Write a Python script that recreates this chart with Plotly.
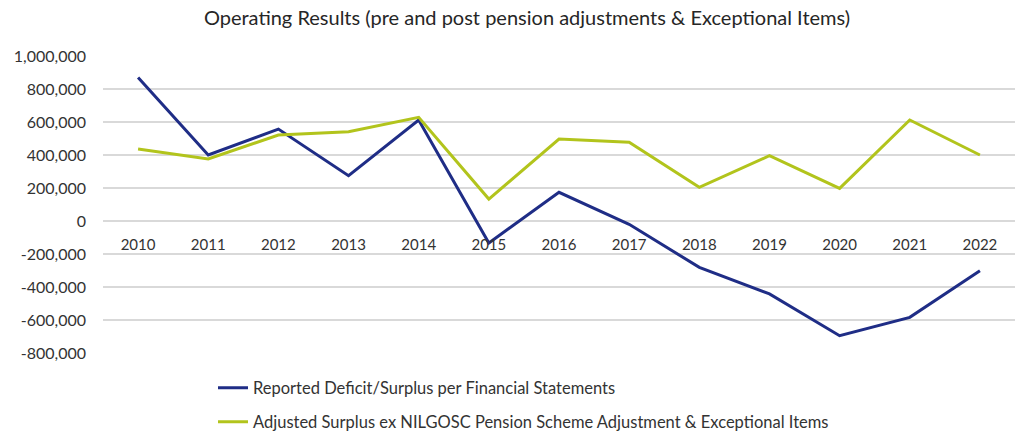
import plotly.graph_objects as go

years = ["2010", "2011", "2012", "2013", "2014", "2015", "2016",
         "2017", "2018", "2019", "2020", "2021", "2022"]
reported = [870000, 400000, 557000, 275000, 612000, -133000, 174000,
            -20000, -281000, -442000, -695000, -584000, -301000]
adjusted = [436000, 376000, 521000, 541000, 628000, 133000, 497000,
            477000, 204000, 396000, 198000, 612000, 400000]
y_ticks = [1000000, 800000, 600000, 400000, 200000, 0,
           -200000, -400000, -600000, -800000]
y_tick_text = ["1,000,000", "800,000", "600,000", "400,000", "200,000", "0",
               "-200,000", "-400,000", "-600,000", "-800,000"]

name_reported = "Reported Deficit/Surplus per Financial Statements"
name_adjusted = "Adjusted Surplus ex NILGOSC Pension Scheme Adjustment & Exceptional Items"

font_family = "Lato, 'Open Sans', sans-serif"
text_color = "#333333"
y_min, y_max = -800000, 1000000

# plot area in pixels
W, H = 1022, 436
left, right, top, bottom = 103, 1015, 56, 353
plot_w, plot_h = right - left, bottom - top


def px_x(px):
    return (px - left) / plot_w


def px_y(py):
    return (bottom - py) / plot_h


fig = go.Figure()
fig.add_trace(go.Scatter(
    x=years, y=reported, mode="lines", name=name_reported,
    line=dict(color="#1f2d86", width=3), legend="legend",
))
fig.add_trace(go.Scatter(
    x=years, y=adjusted, mode="lines", name=name_adjusted,
    line=dict(color="#b2c41c", width=3), legend="legend2",
))

legend_style = dict(
    xanchor="left", yanchor="middle",
    bgcolor="rgba(0,0,0,0)", font=dict(size=16.5, color=text_color),
    itemwidth=30,
)

fig.update_layout(
    width=W, height=H,
    margin=dict(l=left, r=W - right, t=top, b=H - bottom, autoexpand=False),
    paper_bgcolor="white", plot_bgcolor="white",
    font=dict(family=font_family, color=text_color, size=15),
    title=dict(
        text="Operating Results (pre and post pension adjustments & Exceptional Items)",
        x=527 / W, xanchor="center", y=1 - 18 / H, yanchor="middle",
        font=dict(family=font_family, size=20, color="#262626"),
    ),
    xaxis=dict(
        type="category", range=[-0.5, 12.5],
        anchor="free", position=(0 - y_min) / (y_max - y_min),
        showgrid=False, showline=False, zeroline=False, ticks="",
        tickangle=0, ticklabelstandoff=13,
        tickfont=dict(size=15, color=text_color),
    ),
    yaxis=dict(
        range=[y_min, y_max], tickvals=y_ticks, ticktext=y_tick_text,
        showgrid=True, gridcolor="#d9d9d9", gridwidth=1.5,
        zeroline=False, showline=False, ticks="",
        ticklabelstandoff=16,
        tickfont=dict(size=16, color=text_color),
    ),
    legend=dict(x=px_x(213), y=px_y(388), **legend_style),
    legend2=dict(x=px_x(213), y=px_y(422), **legend_style),
    showlegend=True,
)

fig.write_html("out.html")
